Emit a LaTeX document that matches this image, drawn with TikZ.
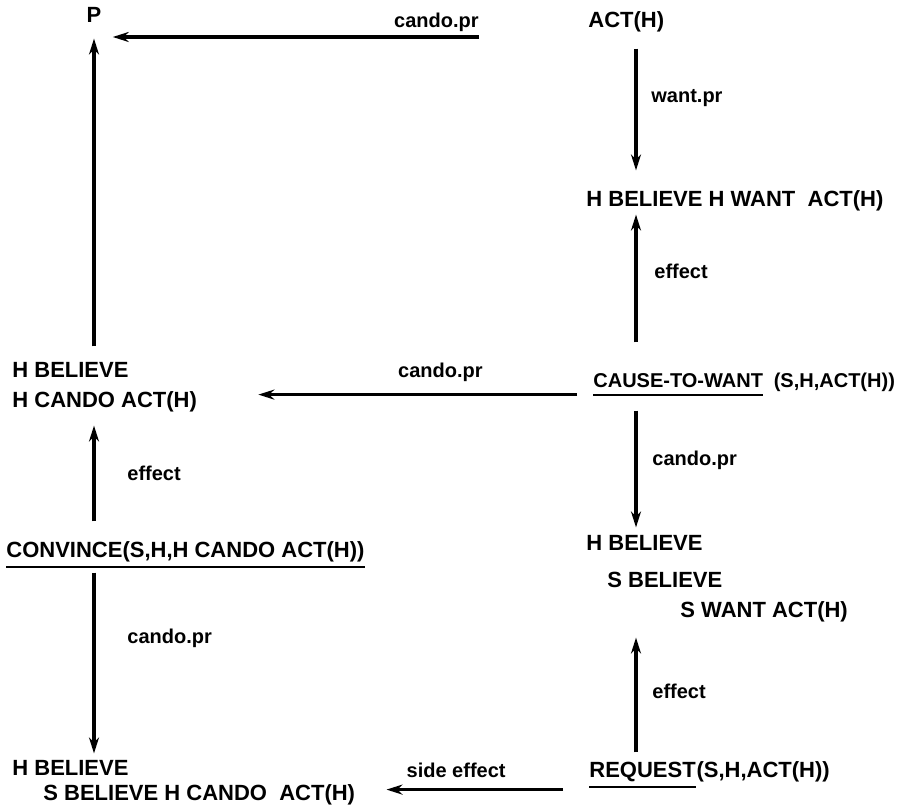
\documentclass[tikz,border=0pt]{standalone}
\usepackage{fontspec}
\setmainfont{Liberation Sans}
\usetikzlibrary{arrows.meta,positioning,calc}

\tikzset{
    term/.style={anchor=west, inner sep=0pt, text height=8pt, text depth=2.2pt, font=\fontsize{11}{13}\selectfont\bfseries},
    rel/.style={anchor=west, inner sep=0pt, text height=7.5pt, text depth=2pt, font=\fontsize{10}{12}\selectfont\bfseries},
    link/.style={-{Stealth[length=8pt,width=5pt]}, line width=1.6pt},
    uline/.style={line width=0.9pt},
}

\begin{document}
\begin{tikzpicture}[x=0.5pt, y=-0.5pt]
    \useasboundingbox (0,0) rectangle (920,812);
    \coordinate (colL) at (94,0);
    \coordinate (colR) at (636,0);

    % left column
    \node (p) [term, anchor=center] at (94,17) {P};
    \node (hbL) [term] at (12,372) {H BELIEVE};
    \node (hcL) [term] at (12,402) {H CANDO ACT(H)};
    \node (conv) [term] at (6,552) {CONVINCE(S,H,H CANDO ACT(H))};
    \node (hbL2) [term] at (12,770) {H BELIEVE};
    \node (sbhc) [term] at (43,795) {S BELIEVE H CANDO\ \ ACT(H)};

    % right column
    \node (act) [term] at (588,22) {ACT(H)};
    \node (hbhw) [term] at (586,201) {H BELIEVE H WANT\ \ ACT(H)};
    \node (cause) [term, font=\fontsize{10}{12}\selectfont\bfseries] at (593,382) {CAUSE-TO-WANT};
    \node (causeargs) [term, font=\fontsize{10}{12}\selectfont\bfseries, right=5pt of cause] {(S,H,ACT(H))};
    \node (hbR) [term] at (586,545) {H BELIEVE};
    \node (sbR) [term] at (607,582) {S BELIEVE};
    \node (swR) [term] at (680,612) {S WANT ACT(H)};
    \node (req) [term] at (589,772) {REQUEST};
    \node (reqargs) [term, right=0pt of req] {(S,H,ACT(H))};

    % relation labels
    \node (lcanTop) [rel, anchor=east] at (479,22) {cando.pr};
    \node (lwant) [rel] at (651,97) {want.pr};
    \node (leffR1) [rel] at (654,273) {effect};
    \node (lcanMid) [rel, anchor=east] at (483,372) {cando.pr};
    \node (lcanR) [rel] at (652,460) {cando.pr};
    \node (leffR2) [rel] at (652,693) {effect};
    \node (leffL) [rel] at (127,475) {effect};
    \node (lcanL) [rel] at (127,638) {cando.pr};
    \node (lside) [rel, anchor=east] at (506,772) {side effect};

    % arrows
    \coordinate (topR) at (479,37);
    \draw [link, shorten >=5.5pt] (topR) -- (topR -| p.east);
    \draw [link, shorten <=7.5pt, shorten >=5.5pt] (hbL.north -| colL) -- (p.south -| colL);
    \draw [link, shorten <=8pt, shorten >=30.5pt] ([yshift=-1pt]cause.south west) -- ([yshift=-1pt]cause.south west -| hcL.east);
    \draw [uline] ([yshift=-1pt]cause.south west) -- ([yshift=-1pt]cause.south east);
    \draw [link, shorten <=10pt, shorten >=6.5pt] (conv.north -| colL) -- (hcL.south -| colL);
    \draw [uline] ([yshift=-2pt]conv.south west) -- ([yshift=-2pt]conv.south east);
    \draw [link, shorten <=5pt, shorten >=3pt] (conv.south -| colL) -- (hbL2.north -| colL);

    \draw [link, shorten <=8pt, shorten >=10pt] (act.south -| colR) -- (hbhw.north -| colR);
    \draw [link, shorten <=14.5pt, shorten >=1.5pt] (cause.north -| colR) -- (hbhw.south -| colR);
    \draw [link, shorten <=9pt, shorten >=3.5pt] (cause.south -| colR) -- (hbR.north -| colR);
    \draw [link, shorten <=4.5pt, shorten >=7.5pt] (req.north -| colR) -- (swR.south -| colR);
    \draw [uline] ([yshift=-2pt]req.south west) -- ([yshift=-2pt]req.south east);
    \draw [link, shorten <=13pt, shorten >=15.5pt] ([yshift=-3.5pt]req.south west) -- ([yshift=-3.5pt]req.south west -| sbhc.east);
\end{tikzpicture}
\end{document}
